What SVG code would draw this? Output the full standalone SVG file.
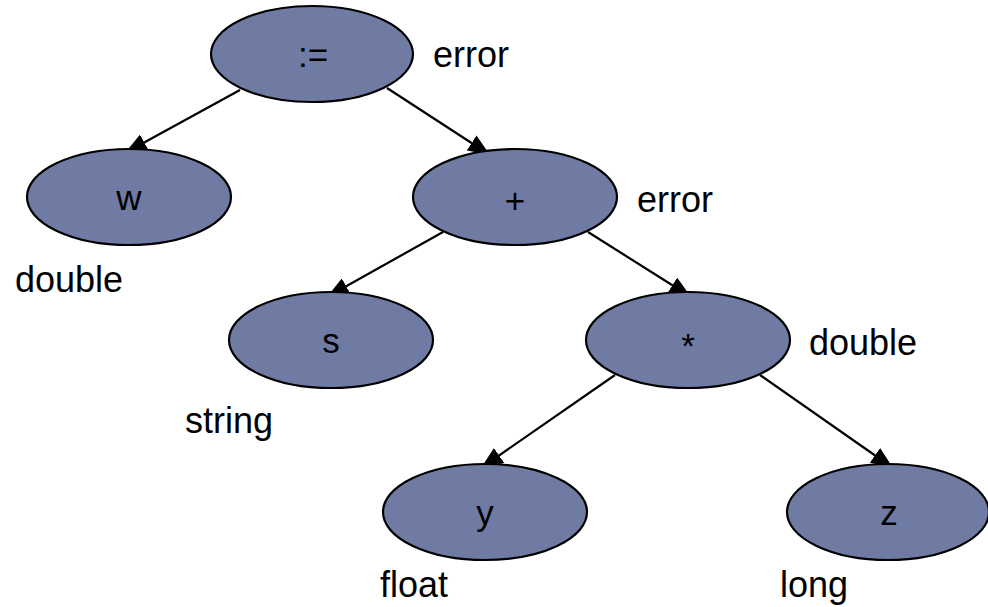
<svg xmlns="http://www.w3.org/2000/svg" width="988" height="607" viewBox="0 0 988 607">
  <style>
    .node ellipse { fill: #6f7ba2; stroke: #000; stroke-width: 2.2; }
    .op { font-family: "Liberation Sans", Arial, sans-serif; font-size: 35px; fill: #000; text-anchor: middle; }
    .type { font-family: "Liberation Sans", Arial, sans-serif; font-size: 36px; fill: #000; }
    .edge { stroke: #000; stroke-width: 2.2; fill: none; marker-end: url(#head); }
  </style>
  <defs>
    <marker id="head" markerUnits="userSpaceOnUse" markerWidth="22" markerHeight="18" refX="22" refY="9" orient="auto">
      <path d="M0,0 L22,9 L0,18 z" fill="#000"/>
    </marker>
  </defs>

  <rect width="988" height="607" fill="#fff"/>

  <!-- edges of the expression tree; tips end just under the child ellipses -->
  <g id="connectors">
    <line class="edge" x1="240" y1="90" x2="125" y2="153"/>
    <line class="edge" x1="387" y1="88" x2="490" y2="155"/>
    <line class="edge" x1="443" y1="232" x2="327" y2="297"/>
    <line class="edge" x1="588" y1="232" x2="691" y2="297"/>
    <line class="edge" x1="615" y1="375" x2="481" y2="468"/>
    <line class="edge" x1="760" y1="375" x2="893" y2="468"/>
  </g>

  <g id="assign" class="node">
    <ellipse cx="312" cy="54" rx="101" ry="48"/>
    <text class="op" x="313" y="67">:=</text>
    <text class="type" x="433" y="67">error</text>
  </g>

  <g id="w" class="node">
    <ellipse cx="129" cy="197" rx="102" ry="48"/>
    <text class="op" x="129" y="210">w</text>
    <text class="type" x="15" y="292">double</text>
  </g>

  <g id="plus" class="node">
    <ellipse cx="515" cy="197" rx="102" ry="48"/>
    <text class="op" x="515" y="213">+</text>
    <text class="type" x="637" y="212">error</text>
  </g>

  <g id="s" class="node">
    <ellipse cx="331" cy="340" rx="102" ry="48"/>
    <text class="op" x="331" y="353">s</text>
    <text class="type" x="185" y="433">string</text>
  </g>

  <g id="times" class="node">
    <ellipse cx="688" cy="340" rx="102" ry="48"/>
    <text class="op" x="688" y="358">*</text>
    <text class="type" x="809" y="355">double</text>
  </g>

  <g id="y" class="node">
    <ellipse cx="485" cy="512" rx="102" ry="48"/>
    <text class="op" x="485" y="525">y</text>
    <text class="type" x="380" y="597">float</text>
  </g>

  <g id="z" class="node">
    <ellipse cx="888" cy="512" rx="101" ry="48"/>
    <text class="op" x="889" y="525">z</text>
    <text class="type" x="780" y="597">long</text>
  </g>
</svg>
